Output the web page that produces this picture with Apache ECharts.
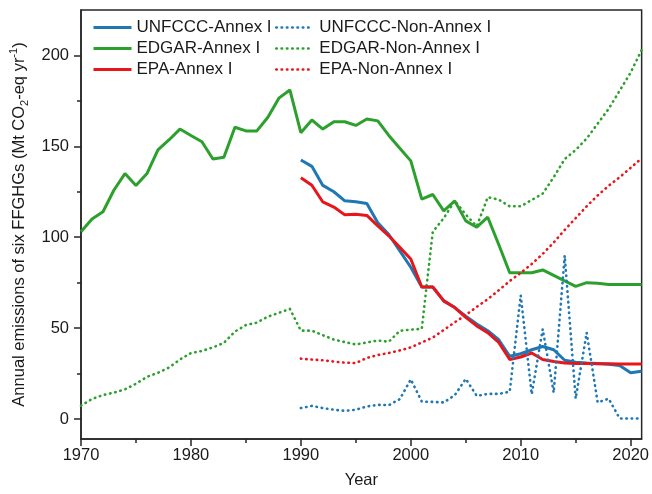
<!DOCTYPE html>
<html><head><meta charset="utf-8">
<script src="https://cdn.jsdelivr.net/npm/echarts@6/dist/echarts.min.js"></script>
<style>html,body{margin:0;padding:0;background:#fff}#c{width:652px;height:494px}</style>
</head><body><div id="c"></div>
<script>
const yearsEdgar = [1970,1971,1972,1973,1974,1975,1976,1977,1978,1979,1980,1981,1982,1983,1984,1985,1986,1987,1988,1989,
  1990,1991,1992,1993,1994,1995,1996,1997,1998,1999,2000,2001,2002,2003,2004,2005,2006,2007,2008,2009,
  2010,2011,2012,2013,2014,2015,2016,2017,2018,2019,2020,2021];
const yearsRecent = [1990,1991,1992,1993,1994,1995,1996,1997,1998,1999,2000,2001,2002,2003,2004,2005,2006,2007,2008,2009,
  2010,2011,2012,2013,2014,2015,2016,2017,2018,2019,2020,2021];

const edgarAnnex = [103,110,114,126,135,128.5,135,148,153.5,159.5,
  156,152.5,143,144,160.5,158.5,158.5,166,176.5,181,
  157.5,164.5,159.5,163.5,163.5,161.5,165,164,156,149,
  142,121,123.5,114.5,120,109,105.5,111,96,80.5,
  80.5,80.5,82,79,76,73,75,74.7,74,74,
  74,74];
const edgarNonAnnex = [7.3,11,13.2,14.5,16.3,19.4,23.2,25.4,28.3,32.7,
  36.3,37.4,39.4,41.9,48.1,51.7,53,56.3,58.4,60.6,
  48.6,48.6,46.1,43.7,42.3,41,42.1,43.2,42.5,48.5,
  49.2,49.6,103,110.5,120,112.5,106,122,120.7,117,
  117,120.5,124,133,143,148,154.3,162.5,170.6,180.6,
  190.6,203];
const unfcccAnnex = [142.5,139,128.5,125,120,119.5,118.5,108,101.5,92.5,
  83.5,72.6,72.6,65,61.3,56.6,52.3,48.6,43.6,34.5,
  35.9,38.1,39.9,38.1,32.3,31.2,30.8,30.5,30.1,29.4,
  25.4,26.3];
const epaAnnex = [132.7,128.6,119.4,116.6,112.3,112.6,112.0,106.2,100.8,94.4,
  88,72.6,72.6,65,61.3,55.9,51.2,47.5,42.1,32.7,
  34.1,36.3,32.7,31.6,30.8,30.5,30.5,30.4,30.4,30.3,
  30.3,30.3];
const unfcccNonAnnex = [6,7.2,6,5.1,4.5,5.1,6.9,7.8,7.6,10.9,
  21.8,9.6,9.4,9.1,13.1,22.1,12.7,13.8,13.8,15,
  68,13.6,49.4,14.5,89.9,11.2,47.5,9.1,11.2,0.3,
  0.3,0.3];
const epaNonAnnex = [33.2,32.7,32.3,31.6,31,30.8,33.6,35.2,36.3,37.7,
  39.4,42.1,44.8,49,53.2,57.2,61.7,65.9,70.8,75.9,
  80.4,85.3,90.8,97.1,104,110.5,117,123,128.3,133,
  138.2,143.4];

const xTicks = [1970,1980,1990,2000,2010,2020];
const xMinorTicks = [1975,1985,1995,2005,2015];
const yTicks = [0,50,100,150,200];
const yMinorTicks = [25,75,125,175];

const FONT = '"Liberation Sans", Arial, sans-serif';
const INK = '#1a1a1a';
const AX = '#262626';
const BLUE = '#1f77b4', GREEN = '#2ca02c', RED = '#e8161b';
const pair = (xs, ys) => xs.map((x, i) => [x, ys[i]]);
const dotted = [0.5, 4.8];

function solid(name, color, data, xs) {
  return {name, type:'line', symbol:'none', data: pair(xs, data), z: 3,
    lineStyle:{color, width:3}, itemStyle:{color}, emphasis:{disabled:true}};
}
function dots(name, color, data, xs) {
  return {name, type:'line', symbol:'none', data: pair(xs, data), z: 3,
    lineStyle:{color, width:2.6, type:dotted, cap:'round'}, itemStyle:{color}, emphasis:{disabled:true}};
}

const chart = echarts.init(document.getElementById('c'), null, {renderer:'canvas'});
chart.setOption({
  animation:false,
  backgroundColor:'#fff',
  grid:{left:81, right:9, top:10, bottom:51, show:true, borderColor:AX, borderWidth:1.5, backgroundColor:'transparent'},
  xAxis:[{
    type:'value', min:1970, max:2021, position:'bottom',
    axisLine:{onZero:false, lineStyle:{color:AX, width:1.5}},
    axisTick:{show:true, customValues:xTicks, length:7, lineStyle:{color:AX, width:1.5}},
    axisLabel:{customValues:xTicks, margin:8, fontSize:16.5, color:INK, fontFamily:FONT, formatter:v=>String(v)},
    splitLine:{show:false},
    name:'Year', nameLocation:'middle', nameGap:33,
    nameTextStyle:{fontSize:16.5, color:INK, fontFamily:FONT}
  },{
    type:'value', min:1970, max:2021, position:'bottom',
    axisLine:{show:false, onZero:false},
    axisTick:{show:true, customValues:xMinorTicks, length:4, lineStyle:{color:AX, width:1.5}},
    axisLabel:{show:false}, splitLine:{show:false}
  }],
  yAxis:[{
    type:'value', min:-11, max:225, position:'left',
    axisLine:{show:true, onZero:false, lineStyle:{color:AX, width:1.5}},
    axisTick:{show:true, customValues:yTicks, length:7, lineStyle:{color:AX, width:1.5}},
    axisLabel:{customValues:yTicks, margin:12, fontSize:16.5, color:INK, fontFamily:FONT, formatter:v=>String(v)},
    splitLine:{show:false},
    name:'{a|Annual emissions of six FFGHGs (Mt CO}{sub|2}{a|-eq yr}{sup|-1}{a|)}',
    nameLocation:'middle', nameGap:46, nameRotate:90,
    nameTextStyle:{fontSize:16.5, color:INK, fontFamily:FONT,
      rich:{
        a:{fontSize:16.5, color:INK, fontFamily:FONT, lineHeight:22, verticalAlign:'middle'},
        sub:{fontSize:11, color:INK, fontFamily:FONT, lineHeight:12, verticalAlign:'bottom'},
        sup:{fontSize:11, color:INK, fontFamily:FONT, lineHeight:12, verticalAlign:'top'}
      }}
  },{
    type:'value', min:-11, max:225, position:'left',
    axisLine:{show:false, onZero:false},
    axisTick:{show:true, customValues:yMinorTicks, length:4, lineStyle:{color:AX, width:1.5}},
    axisLabel:{show:false}, splitLine:{show:false}
  }],
  legend:[{
    orient:'vertical', left:92, top:19, padding:0, itemWidth:38, itemHeight:14, itemGap:4,
    itemStyle:{opacity:0}, lineStyle:{width:3},
    textStyle:{fontSize:17, color:INK, fontFamily:FONT},
    data:['UNFCCC-Annex I','EDGAR-Annex I','EPA-Annex I'], selectedMode:false
  },{
    orient:'vertical', left:275, top:19, padding:0, itemWidth:35, itemHeight:14, itemGap:4,
    itemStyle:{opacity:0}, lineStyle:{width:2.6},
    textStyle:{fontSize:17, color:INK, fontFamily:FONT, padding:[0,0,0,3]},
    data:['UNFCCC-Non-Annex I','EDGAR-Non-Annex I','EPA-Non-Annex I'], selectedMode:false
  }],
  series:[
    solid('EDGAR-Annex I', GREEN, edgarAnnex, yearsEdgar),
    dots('EDGAR-Non-Annex I', GREEN, edgarNonAnnex, yearsEdgar),
    solid('UNFCCC-Annex I', BLUE, unfcccAnnex, yearsRecent),
    solid('EPA-Annex I', RED, epaAnnex, yearsRecent),
    dots('UNFCCC-Non-Annex I', BLUE, unfcccNonAnnex, yearsRecent),
    dots('EPA-Non-Annex I', RED, epaNonAnnex, yearsRecent)
  ]
});
</script></body></html>
